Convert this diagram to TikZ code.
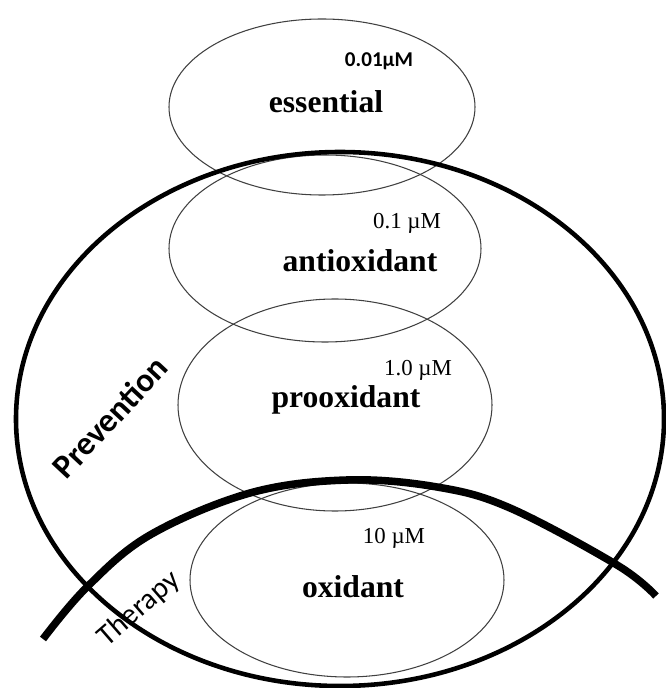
\documentclass[tikz,border=0pt]{standalone}
\usepackage{fontspec}
\setmainfont{Liberation Serif}
\newfontfamily\calibri{Carlito}
\usepackage{tikz}
\usetikzlibrary{shapes.geometric}

\begin{document}
\begin{tikzpicture}
\tikzset{zone/.style = {shape=ellipse,draw=black!75,line width=0.6pt,inner sep=0pt}}
\tikzset{term/.style = {anchor=base,font=\fontsize{18}{20}\selectfont\bfseries}}
\tikzset{dose/.style = {anchor=base,font=\fontsize{13}{15}\selectfont}}
\useasboundingbox (0,0) rectangle (13.32,13.76);
% zones
\node[zone,minimum width=6.12cm,minimum height=3.52cm] (essential) at (6.44,11.62) {};
\node[zone,minimum width=6.24cm,minimum height=3.74cm] (antiox) at (6.50,8.79) {};
\node[zone,minimum width=6.28cm,minimum height=4.24cm] (proox) at (6.70,5.66) {};
\node[zone,minimum width=6.28cm,minimum height=3.88cm] (ox) at (6.94,2.16) {};
\node[shape=ellipse,draw,line width=2.6pt,inner sep=0pt,
      minimum width=12.96cm,minimum height=10.68cm] (prevention) at (6.80,5.38) {};
\draw[line width=4.3pt] plot[smooth,tension=0.6] coordinates
  {(0.86,0.98) (1.74,2.02) (3.00,3.06) (5.00,3.90) (6.94,4.16)
   (8.74,4.02) (10.20,3.60) (12.34,2.46) (13.12,1.84)};
% labels
\node[term] (essentialtxt) at (6.52,11.50) {essential};
\node[term] (antioxtxt) at (7.20,8.32) {antioxidant};
\node[term] (prooxtxt) at (6.92,5.60) {prooxidant};
\node[term] (oxtxt) at (7.06,1.80) {oxidant};
\node[anchor=base,font=\calibri\fontsize{12}{14}\selectfont\bfseries] (essentialdose) at (7.58,12.42) {0.01µM};
\node[dose] (antioxdose) at (8.14,9.18) {0.1 µM};
\node[dose] (prooxdose) at (8.36,6.24) {1.0 µM};
\node[dose] (oxdose) at (7.88,2.88) {10 µM};
\node[rotate=47,font=\calibri\fontsize{19}{21}\selectfont\bfseries] (preventiontxt) at (2.20,5.42) {Prevention};
\node[rotate=41,font=\calibri\fontsize{17}{19}\selectfont] (therapytxt) at (2.78,1.58) {Therapy};
\end{tikzpicture}
\end{document}
